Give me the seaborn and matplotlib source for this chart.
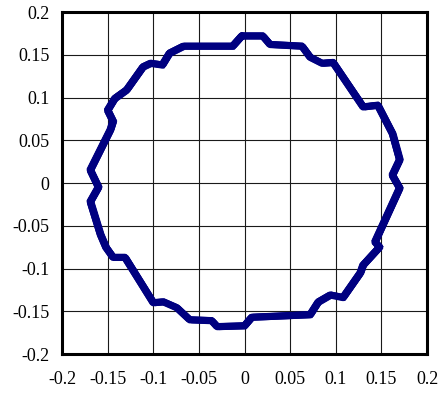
import numpy as np
import pandas as pd
import matplotlib
matplotlib.use("Agg")
import matplotlib.pyplot as plt
import seaborn as sns

# Stator flux trajectory (psi_alpha, psi_beta), one switching cycle traced clockwise
psi_alpha = [-0.003, 0.020, 0.028, 0.063, 0.072, 0.085, 0.097, 0.130, 0.146, 0.162,
             0.170, 0.162, 0.170, 0.143, 0.148, 0.130, 0.127, 0.108, 0.094, 0.081,
             0.072, 0.008, 0.000, -0.030, -0.036, -0.060, -0.074, -0.089, -0.100, -0.131,
             -0.144, -0.152, -0.158, -0.169, -0.160, -0.169, -0.147, -0.144, -0.150, -0.142,
             -0.129, -0.111, -0.103, -0.090, -0.082, -0.067, -0.013, -0.003]
psi_beta = [0.172, 0.172, 0.162, 0.160, 0.147, 0.140, 0.141, 0.089, 0.091, 0.058,
            0.027, 0.009, -0.006, -0.069, -0.075, -0.096, -0.105, -0.134, -0.131, -0.139,
            -0.154, -0.157, -0.167, -0.168, -0.161, -0.160, -0.146, -0.139, -0.140, -0.087,
            -0.087, -0.075, -0.060, -0.022, -0.005, 0.015, 0.062, 0.072, 0.085, 0.099,
            0.109, 0.136, 0.140, 0.138, 0.152, 0.160, 0.160, 0.172]

# Drift of the trajectory between successive cycles
cycle_shift_alpha = [0.003, -0.002, 0.0035, -0.003, 0.001, 0.004, -0.0035, 0.002, 0.0, -0.001]
cycle_shift_beta = [0.002, 0.003, -0.0015, -0.002, 0.0035, 0.0005, 0.0015, -0.0035, 0.0025, -0.001]

ticks = [-0.2, -0.15, -0.1, -0.05, 0, 0.05, 0.1, 0.15, 0.2]
tick_labels = ["-0.2", "-0.15", "-0.1", "-0.05", "0", "0.05", "0.1", "0.15", "0.2"]

sns.set_theme(style="white")
plt.rcParams["font.family"] = ["Liberation Serif", "DejaVu Serif"]

a = psi_alpha + psi_alpha[:1]
b = psi_beta + psi_beta[:1]
rows = []
for k, (da, db) in enumerate(zip(cycle_shift_alpha, cycle_shift_beta)):
    for i, (x, y) in enumerate(zip(a, b)):
        rows.append({"cycle": k, "step": i, "alpha": x + da, "beta": y + db})
cycles = pd.DataFrame(rows)
base = pd.DataFrame({"step": range(len(a)), "alpha": a, "beta": b})

fig = plt.figure(figsize=(4.39, 3.94), dpi=100)
ax = fig.add_axes([0.1412, 0.1015, 0.8315, 0.868])

color = "#000080"
sns.lineplot(data=base, x="alpha", y="beta", sort=False, estimator=None,
             color=color, linewidth=5.2, ax=ax, zorder=3)
sns.lineplot(data=cycles, x="alpha", y="beta", units="cycle", sort=False,
             estimator=None, color=color, linewidth=0.7, ax=ax, zorder=4)

ax.set_xlim(-0.2, 0.2)
ax.set_ylim(-0.2, 0.2)
ax.set_xticks(ticks)
ax.set_xticklabels(tick_labels)
ax.set_yticks(ticks)
ax.set_yticklabels(tick_labels)
ax.set_xlabel("")
ax.set_ylabel("")
ax.grid(True, color="#1a1a1a", linewidth=0.8)
ax.set_axisbelow(True)
ax.tick_params(length=0, labelsize=13, colors="black")
ax.tick_params(axis="x", pad=12)
ax.tick_params(axis="y", pad=9)
for s in ax.spines.values():
    s.set_visible(True)
    s.set_color("black")
    s.set_linewidth(2.2)

fig.savefig("out.png", dpi=100)
